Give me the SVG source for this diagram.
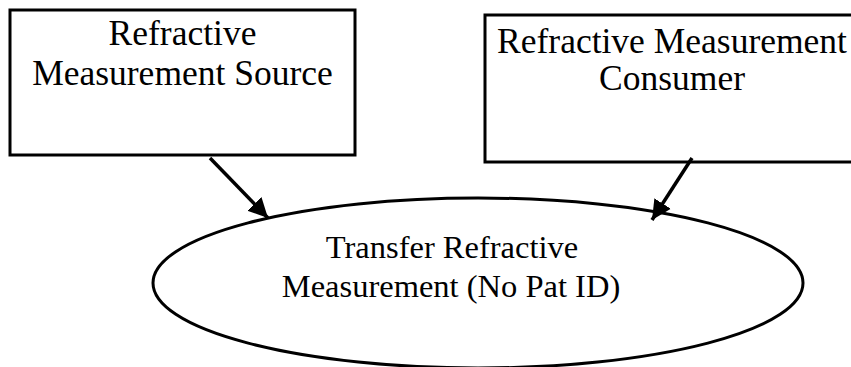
<svg xmlns="http://www.w3.org/2000/svg" width="851" height="367" viewBox="0 0 851 367">
<defs>
<style>
.box{fill:#fff;stroke:#000;stroke-width:3}
.ell{fill:#fff;stroke:#000;stroke-width:3}
.t{font-family:"Liberation Serif","Times New Roman",serif;font-size:35.5px;fill:#000;text-anchor:middle}
.s{font-size:32.5px}
.c{stroke:#000;stroke-width:3.5;fill:none;marker-end:url(#ah)}
</style>
<marker id="ah" viewBox="0 0 10 10" refX="10" refY="5" markerWidth="5.6" markerHeight="6.2" orient="auto" markerUnits="strokeWidth">
<path d="M0,0 L10,5 L0,10 z" fill="#000"/>
</marker>
</defs>
<rect width="851" height="367" fill="#fff"/>
<g id="source">
<rect class="box" x="10" y="10" width="345" height="145"/>
<text class="t" x="182.5" y="45">Refractive</text>
<text class="t" x="182.5" y="85">Measurement Source</text>
</g>
<g id="consumer">
<rect class="box" x="485" y="15" width="380" height="147"/>
<text class="t" x="672" y="53">Refractive Measurement</text>
<text class="t" x="672" y="90">Consumer</text>
</g>
<g id="transfer">
<ellipse class="ell" cx="478" cy="283" rx="325" ry="85"/>
<text class="t s" x="452" y="258">Transfer Refractive</text>
<text class="t s" x="451" y="297">Measurement (No Pat ID)</text>
</g>
<g id="connectors">
<line class="c" x1="210" y1="158" x2="268" y2="218"/>
<line class="c" x1="692" y1="158" x2="652" y2="220"/>
</g>
</svg>
